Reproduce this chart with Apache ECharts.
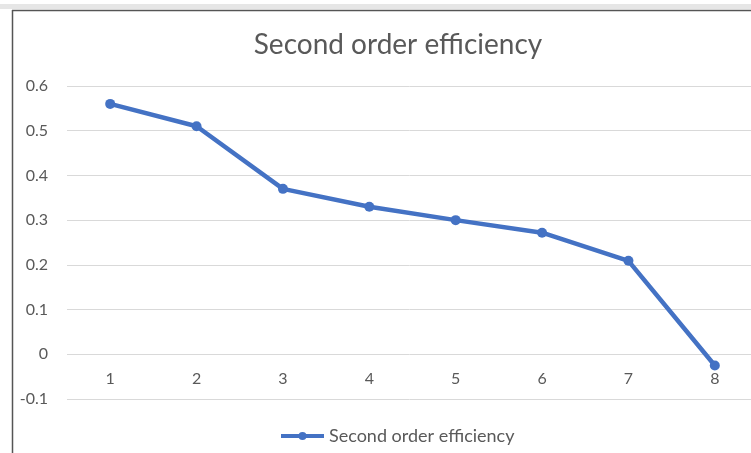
<!DOCTYPE html>
<html>
<head>
<meta charset="utf-8">
<script src="https://cdn.jsdelivr.net/npm/echarts@6/dist/echarts.min.js"></script>
<style>
html,body{margin:0;padding:0;background:#fff;}
#c{width:751px;height:453px;}
</style>
</head>
<body>
<div id="c"></div>
<script>
const categories = ['1','2','3','4','5','6','7','8'];
const efficiency = [0.56, 0.51, 0.37, 0.33, 0.30, 0.272, 0.209, -0.025];
const seriesName = 'Second order efficiency';
const yTicks = [-0.1, 0, 0.1, 0.2, 0.3, 0.4, 0.5, 0.6];

const FONT = 'Lato';
const chart = echarts.init(document.getElementById('c'));
chart.setOption({
  animation: false,
  backgroundColor: '#ffffff',
  title: {
    text: seriesName,
    left: 393, top: 26, textAlign: 'center',
    textStyle: {fontFamily: FONT, fontWeight: 'normal', fontSize: 28, color: '#595959'}
  },
  graphic: [
    {type: 'rect', shape: {x: 0, y: 4, width: 751, height: 5}, style: {fill: '#e6e6e6'}, silent: true},
    {type: 'line', shape: {x1: 12, y1: 10.5, x2: 751, y2: 10.5}, style: {stroke: '#555', lineWidth: 1.5}, silent: true},
    {type: 'line', shape: {x1: 12.5, y1: 10, x2: 12.5, y2: 453}, style: {stroke: '#555', lineWidth: 1.5}, silent: true}
  ],
  legend: {
    bottom: 3, left: 274,
    data: [seriesName],
    itemWidth: 43, itemHeight: 10, itemGap: 5,
    lineStyle: {width: 4},
    textStyle: {fontFamily: FONT, fontSize: 18, color: '#595959'}
  },
  grid: {left: 67, right: -7, top: 86, bottom: 54, outerBoundsMode: 'none', containLabel: false},
  xAxis: {
    type: 'category', data: categories, boundaryGap: true,
    offset: -44.7,
    axisLine: {show: false, onZero: false},
    axisTick: {show: false},
    axisLabel: {fontFamily: FONT, fontSize: 16, color: '#595959', margin: 17}
  },
  yAxis: {
    type: 'value', min: yTicks[0], max: yTicks[yTicks.length - 1], interval: 0.1,
    axisLine: {show: false}, axisTick: {show: false},
    splitLine: {lineStyle: {color: '#d9d9d9', width: 1}},
    axisLabel: {fontFamily: FONT, fontSize: 16, color: '#595959', margin: 19,
      formatter: v => (Math.round(v * 10) / 10).toString()}
  },
  series: [{
    name: seriesName, type: 'line', data: efficiency,
    symbol: 'circle', symbolSize: 10,
    lineStyle: {color: '#4472c4', width: 4.5},
    itemStyle: {color: '#4472c4'}
  }]
});
</script>
</body>
</html>
